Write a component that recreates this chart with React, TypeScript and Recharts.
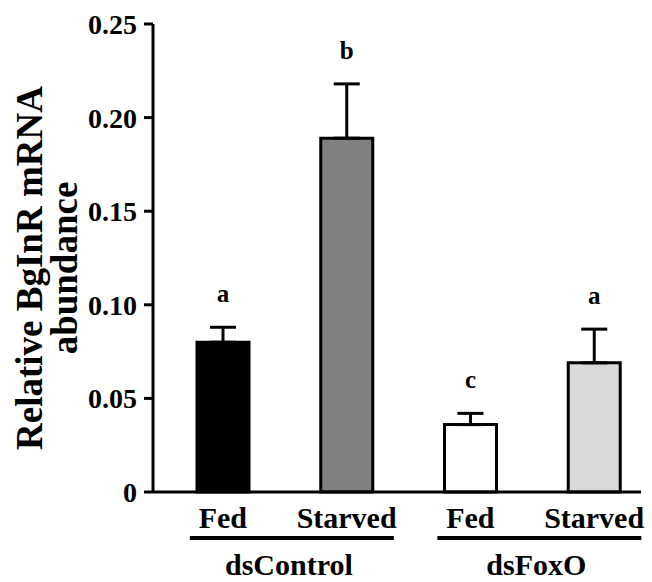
import { Bar, BarChart, Cell, ErrorBar, LabelList, XAxis, YAxis } from "recharts";

const conditions = ["Fed", "Starved", "Fed", "Starved"];
const groups = ["dsControl", "dsControl", "dsFoxO", "dsFoxO"];
const abundance = [0.08, 0.189, 0.036, 0.069];
const sem = [0.008, 0.029, 0.006, 0.018];
const letters = ["a", "b", "c", "a"];
const fills = ["#000000", "#808080", "#ffffff", "#d9d9d9"];
const yTicks = [0, 0.05, 0.1, 0.15, 0.2, 0.25];

const data = conditions.map((c, i) => ({
  condition: c,
  group: groups[i],
  value: abundance[i],
  err: [0, sem[i]],
}));

const FONT = "'Liberation Serif', 'Times New Roman', serif";

function ConditionTick(props: any) {
  const { x, y, payload, index } = props;
  const i = payload?.index ?? index;
  const startsGroup = i === 0 || groups[i] !== groups[i - 1];
  return (
    <g>
      <text
        x={x}
        y={y + 36}
        textAnchor="middle"
        fontFamily={FONT}
        fontWeight="bold"
        fontSize={30}
        fill="#000"
      >
        {payload.value}
      </text>
      {startsGroup && (
        <g>
          <line
            x1={x - 33}
            x2={x + 171}
            y1={y + 46}
            y2={y + 46}
            stroke="#000"
            strokeWidth={4}
          />
          <text
            x={x + 66}
            y={y + 83}
            textAnchor="middle"
            fontFamily={FONT}
            fontWeight="bold"
            fontSize={30}
            fill="#000"
          >
            {groups[i]}
          </text>
        </g>
      )}
    </g>
  );
}

function LetterLabel(props: any) {
  const { x, y, width, height, value, index } = props;
  const top = y - (sem[index] * height) / value;
  return (
    <text
      x={x + width / 2}
      y={top - 25}
      textAnchor="middle"
      fontFamily={FONT}
      fontWeight="bold"
      fontSize={25}
      fill="#000"
    >
      {letters[index]}
    </text>
  );
}

function YTitle(props: any) {
  const { viewBox } = props;
  const cy = viewBox.y + viewBox.height / 2 + 10;
  return (
    <g fontFamily={FONT} fontWeight="bold" fontSize={37} fill="#000">
      <text x={42} y={cy} textAnchor="middle" transform={`rotate(-90, 42, ${cy})`}>
        Relative BgInR mRNA
      </text>
      <text x={77} y={cy} textAnchor="middle" transform={`rotate(-90, 77, ${cy})`}>
        abundance
      </text>
    </g>
  );
}

export default function App() {
  return (
    <div style={{ position: "absolute", left: 0, top: 0, width: 652, height: 582, background: "#fff" }}>
      <BarChart
        width={652}
        height={582}
        data={data}
        margin={{ top: 24, right: 11, bottom: 0, left: 0 }}
      >
        <XAxis
          dataKey="condition"
          height={90}
          padding={{ left: 8, right: -15 }}
          axisLine={{ stroke: "#000", strokeWidth: 3 }}
          tickLine={false}
          tickSize={0}
          tickMargin={0}
          interval={0}
          tick={<ConditionTick />}
        />
        <YAxis
          width={153}
          domain={[0, 0.25]}
          ticks={yTicks}
          interval={0}
          tickFormatter={(v: number) => (v === 0 ? "0" : v.toFixed(2))}
          axisLine={{ stroke: "#000", strokeWidth: 3 }}
          tickLine={{ stroke: "#000", strokeWidth: 3 }}
          tickSize={9}
          tickMargin={7}
          tick={{ fill: "#000", fontFamily: FONT, fontWeight: "bold", fontSize: 28 }}
          label={<YTitle />}
        />
        <Bar
          dataKey="value"
          barSize={52}
          stroke="#000"
          strokeWidth={3}
          isAnimationActive={false}
        >
          {data.map((d, i) => (
            <Cell key={i} fill={fills[i]} />
          ))}
          <ErrorBar dataKey="err" width={13} stroke="#000" strokeWidth={3} direction="y" />
          <LabelList dataKey="value" content={<LetterLabel />} />
        </Bar>
      </BarChart>
    </div>
  );
}
